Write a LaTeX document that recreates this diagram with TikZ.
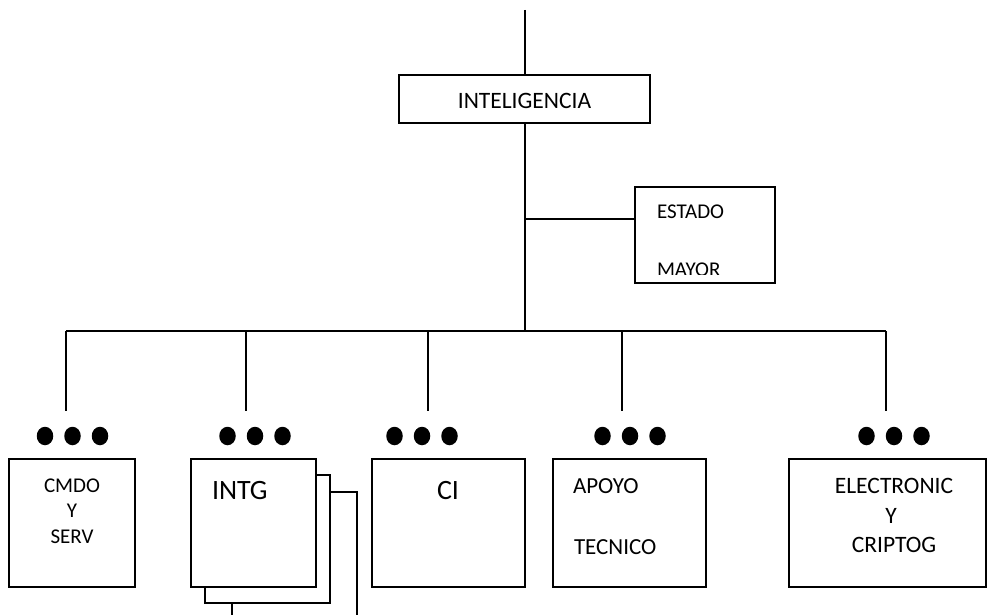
\documentclass[tikz,border=0pt]{standalone}
\usepackage{fontspec}
\setmainfont{Carlito}
\usetikzlibrary{shapes.geometric}
\tikzset{
  box/.style={draw, fill=white, line width=1.6pt, rectangle, inner sep=0pt, outer sep=0pt},
  conn/.style={line width=1.5pt},
  lbl/.style={inner sep=0pt, outer sep=0pt, anchor=base, font=\fontsize{22}{26}\selectfont},
  lblw/.style={lbl, anchor=base west},
  big/.style={font=\fontsize{28}{32}\selectfont},
  dotn/.style={ellipse, fill=black, draw=none, inner sep=0pt, minimum width=16.5pt, minimum height=18.5pt},
}
\begin{document}
\begin{tikzpicture}[x=1pt,y=-1pt]
\clip (0,0) rectangle (987,615);
% boxes
\node[box, minimum width=251pt, minimum height=48pt] (intel) at (524.5,99) {};
\node[box, minimum width=140pt, minimum height=96pt] (estado) at (705,235) {};
\node[box, minimum width=126pt, minimum height=128pt] (cmdo) at (72,523) {};
\node[box, minimum width=125pt, minimum height=128pt] (intgc) at (294.5,556) {};
\node[box, minimum width=125pt, minimum height=128pt] (intgb) at (267.5,539) {};
\node[box, minimum width=125pt, minimum height=128pt] (intga) at (253.5,523) {};
\node[box, minimum width=153pt, minimum height=128pt] (ci) at (448.5,523) {};
\node[box, minimum width=153pt, minimum height=128pt] (apoyo) at (629.5,523) {};
\node[box, minimum width=197pt, minimum height=128pt] (elec) at (887.5,523) {};
% connectors
\coordinate (top) at (525,10);
\coordinate (bar) at (525,331);
\coordinate (branch) at (525,219);
\draw[conn] (top) -- (top |- intel.north);
\draw[conn] (intel.south -| bar) -- (bar);
\draw[conn] (branch) -- (branch -| estado.west);
\coordinate (d1) at (66,331);  \coordinate (e1) at (66,411);
\coordinate (d2) at (246,331); \coordinate (e2) at (246,411);
\coordinate (d3) at (428,331); \coordinate (e3) at (428,411);
\coordinate (d4) at (622,331); \coordinate (e4) at (622,411);
\coordinate (d5) at (886,331); \coordinate (e5) at (886,411);
\draw[conn] (d1) -- (d5);
\foreach \i in {1,...,5} { \draw[conn] (d\i) -- (e\i); }
% dots
\foreach \n/\cx in {a/72.5, b/255, c/422, d/630, e/894} {
  \node[dotn] (dot\n1) at (\cx-27.5,436) {};
  \node[dotn] (dot\n2) at (\cx,436) {};
  \node[dotn] (dot\n3) at (\cx+27.5,436) {};
}
% texts
\node[lbl, font=\fontsize{23.5}{28}\selectfont] (tintel) at (524.5,109) {INTELIGENCIA};
\node[lblw, font=\fontsize{21}{25}\selectfont] (testado) at (657,218) {ESTADO};
\begin{scope}
\clip (640,190) rectangle (770,274);
\node[lblw, font=\fontsize{21}{25}\selectfont] (tmayor) at (657,276) {MAYOR};
\end{scope}
\node[lbl, font=\fontsize{21}{25}\selectfont] (tcmdo) at (72,492) {CMDO};
\node[lbl, font=\fontsize{21}{25}\selectfont] (tcy) at (72,517.5) {Y};
\node[lbl, font=\fontsize{21}{25}\selectfont] (tserv) at (72,543) {SERV};
\node[lblw, big] (tintg) at (212,499) {INTG};
\node[lbl, big] (tci) at (448,499) {CI};
\node[lblw, font=\fontsize{23}{27}\selectfont] (tapoyo) at (573,493) {APOYO};
\node[lblw, font=\fontsize{23}{27}\selectfont] (ttec) at (574,554) {TECNICO};
\node[lbl, font=\fontsize{23.5}{28}\selectfont] (telec) at (894,493) {ELECTRONIC};
\node[lbl, font=\fontsize{23.5}{28}\selectfont] (tey) at (891,523) {Y};
\node[lbl, font=\fontsize{23.5}{28}\selectfont] (tcrip) at (894,552) {CRIPTOG};
\end{tikzpicture}
\end{document}
